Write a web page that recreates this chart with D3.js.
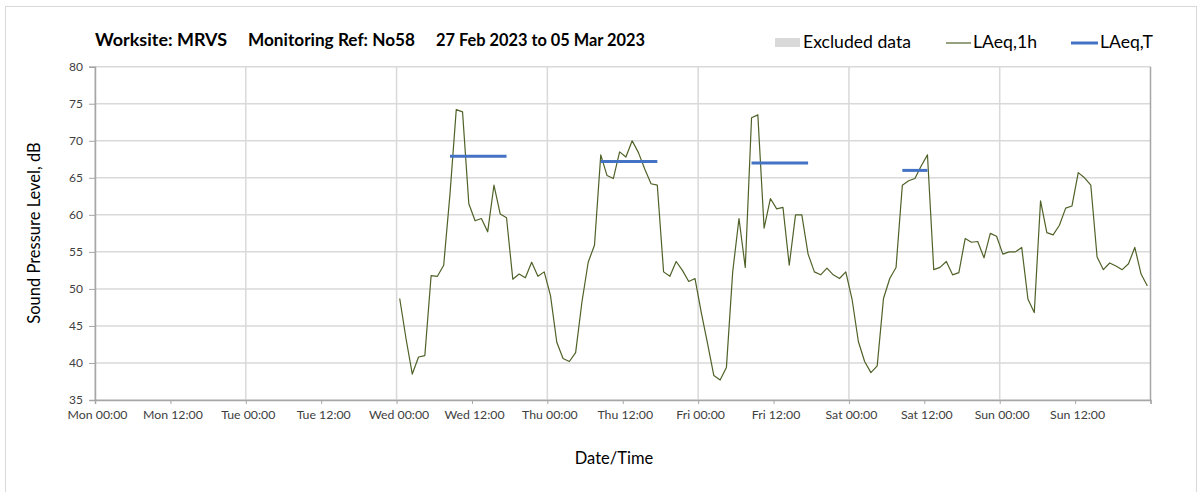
<!DOCTYPE html>
<html>
<head>
<meta charset="utf-8">
<script src="https://cdn.jsdelivr.net/npm/d3@7"></script>
<style>
  html, body { margin: 0; padding: 0; background: #fff; }
  svg text { font-family: Lato, "Open Sans", sans-serif; }
</style>
</head>
<body>
<svg id="chart" width="1203" height="492"></svg>
<script>
// ---- Data ----
const titleParts = ["Worksite: MRVS", "Monitoring Ref: No58", "27 Feb 2023 to 05 Mar 2023"];
const firstPointTime = "2023-03-01T00:30:00"; // hourly values, plotted at mid-hour
const laeq1h = [
  48.7, 43.3, 38.5, 40.8, 41.0, 51.8, 51.7, 53.2, 62.8, 74.2, 73.9, 61.5, 59.2, 59.5, 57.7, 64.0, 60.1, 59.6, 51.3, 52.0, 51.5, 53.6, 51.7, 52.3,
  49.1, 42.8, 40.6, 40.2, 41.4, 48.2, 53.6, 55.9, 68.1, 65.3, 64.9, 68.5, 67.8, 70.0, 68.4, 66.2, 64.2, 64.0, 52.3, 51.7, 53.7, 52.5, 51.0, 51.4,
  46.8, 42.6, 38.3, 37.7, 39.4, 52.3, 59.5, 52.9, 73.1, 73.5, 58.2, 62.2, 60.8, 61.0, 53.2, 60.0, 60.0, 54.7, 52.3, 51.9, 52.8, 51.9, 51.4, 52.3,
  48.6, 42.9, 40.2, 38.7, 39.6, 48.7, 51.4, 52.9, 64.0, 64.6, 64.9, 66.6, 68.1, 52.6, 52.9, 53.7, 51.9, 52.2, 56.8, 56.3, 56.4, 54.2, 57.5, 57.1,
  54.7, 55.0, 55.0, 55.6, 48.6, 46.8, 61.9, 57.6, 57.3, 58.6, 60.9, 61.2, 65.7, 65.0, 64.0, 54.3, 52.6, 53.5, 53.1, 52.6, 53.4, 55.6, 52.0, 50.4
];
const laeqTStart = ["2023-03-01T08:30:00", "2023-03-02T08:30:00", "2023-03-03T08:30:00", "2023-03-04T08:30:00"];
const laeqTEnd   = ["2023-03-01T17:30:00", "2023-03-02T17:30:00", "2023-03-03T17:30:00", "2023-03-04T12:30:00"];
const laeqTValue = [67.9, 67.2, 67.0, 66.0];
const yTicks = [35, 40, 45, 50, 55, 60, 65, 70, 75, 80];
const xDomain = ["2023-02-27T00:00:00", "2023-03-06T00:00:00"];
const legendLabels = ["Excluded data", "LAeq,1h", "LAeq,T"];

// ---- Layout ----
(function () {
const svg = d3.select("#chart");
const pLeft = 95, pRight = 1150.5, pTop = 66.7, pBottom = 400;
const parse = d3.isoParse;
const t0 = parse(firstPointTime);
const series = laeq1h.map((v, i) => ({ t: d3.timeHour.offset(t0, i), v }));

const x = d3.scaleTime().domain(xDomain.map(parse)).range([pLeft, pRight]);
const y = d3.scaleLinear().domain([35, 80]).range([pBottom, pTop]);

// outer border
svg.append("rect").attr("x", 5.5).attr("y", 6.5).attr("width", 1191).attr("height", 500)
  .attr("fill", "none").attr("stroke", "#d9d9d9").attr("stroke-width", 1);

// gridlines
const g = svg.append("g");
g.selectAll("line.hgrid").data(yTicks).join("line")
  .attr("x1", pLeft).attr("x2", pRight)
  .attr("y1", d => y(d)).attr("y2", d => y(d))
  .attr("stroke", "#d9d9d9").attr("stroke-width", 1.5);
const dayTicks = d3.timeDay.every(1).range(x.domain()[0], d3.timeHour.offset(x.domain()[1], 1));
g.selectAll("line.vgrid").data(dayTicks).join("line")
  .attr("x1", d => x(d)).attr("x2", d => x(d))
  .attr("y1", pTop).attr("y2", pBottom)
  .attr("stroke", d => (+d === +x.domain()[1]) ? "#a6a6a6" : "#d9d9d9").attr("stroke-width", 1.5);

// y axis
const yAxis = d3.axisLeft(y).tickValues(yTicks).tickSize(6).tickPadding(6);
const ya = svg.append("g").attr("transform", `translate(${pLeft},0)`).call(yAxis);
ya.select(".domain").attr("stroke", "#a6a6a6").attr("stroke-width", 1.5);
ya.selectAll(".tick line").attr("stroke", "#a6a6a6");
ya.selectAll(".tick text").attr("font-size", 12).attr("fill", "#404040");

// x axis
const xTicks = d3.timeHour.every(12).range(x.domain()[0], d3.timeHour.offset(x.domain()[1], 1));
const xAxis = d3.axisBottom(x).tickValues(xTicks).tickSize(4).tickPadding(6)
  .tickFormat(d => (+d === +x.domain()[1]) ? "" : d3.timeFormat("%a %H:%M")(d));
const xa = svg.append("g").attr("transform", `translate(0,${pBottom})`).call(xAxis);
xa.select(".domain").attr("stroke", "#a6a6a6").attr("stroke-width", 1.5);
xa.selectAll(".tick line").attr("stroke", "#a6a6a6");
xa.selectAll(".tick text").attr("font-size", 12.3).attr("fill", "#404040").attr("dx", 2);

// LAeq,1h line
const line = d3.line().x(d => x(d.t)).y(d => y(d.v));
svg.append("path").datum(series)
  .attr("d", line).attr("fill", "none")
  .attr("stroke", "#4F6228").attr("stroke-width", 1.2).attr("stroke-linejoin", "round");

// LAeq,T segments
svg.selectAll("line.laeqT").data(laeqTValue).join("line")
  .attr("x1", (d, i) => x(parse(laeqTStart[i])))
  .attr("x2", (d, i) => x(parse(laeqTEnd[i])))
  .attr("y1", d => y(d)).attr("y2", d => y(d))
  .attr("stroke", "#4472C4").attr("stroke-width", 3);

// title (three parts)
const titleX = [95, 248, 436], titleW = [132, 167, 209];
titleParts.forEach((t, i) => {
  svg.append("text").attr("x", titleX[i]).attr("y", 46)
    .attr("font-size", 16.5).attr("font-weight", "bold").attr("fill", "#000")
    .attr("textLength", titleW[i]).attr("lengthAdjust", "spacingAndGlyphs").text(t);
});

// legend
const lg = svg.append("g");
lg.append("rect").attr("x", 775).attr("y", 38).attr("width", 25).attr("height", 9).attr("fill", "#d9d9d9");
lg.append("text").attr("x", 803).attr("y", 48).attr("font-size", 16.5).attr("fill", "#000")
  .attr("textLength", 108).attr("lengthAdjust", "spacingAndGlyphs").text(legendLabels[0]);
lg.append("line").attr("x1", 946).attr("x2", 971).attr("y1", 43).attr("y2", 43).attr("stroke", "#4F6228").attr("stroke-width", 1.2);
lg.append("text").attr("x", 973).attr("y", 48).attr("font-size", 16.5).attr("fill", "#000")
  .attr("textLength", 64).attr("lengthAdjust", "spacingAndGlyphs").text(legendLabels[1]);
lg.append("line").attr("x1", 1071).attr("x2", 1098).attr("y1", 43).attr("y2", 43).attr("stroke", "#4472C4").attr("stroke-width", 3);
lg.append("text").attr("x", 1100).attr("y", 48).attr("font-size", 16.5).attr("fill", "#000")
  .attr("textLength", 53).attr("lengthAdjust", "spacingAndGlyphs").text(legendLabels[2]);

// axis titles
svg.append("text").attr("transform", "translate(40,233) rotate(-90)")
  .attr("text-anchor", "middle").attr("font-size", 16.5).attr("fill", "#000")
  .text("Sound Pressure Level, dB");
svg.append("text").attr("x", 614).attr("y", 464)
  .attr("text-anchor", "middle").attr("font-size", 16.5).attr("fill", "#000")
  .text("Date/Time");
})();
</script>
</body>
</html>
